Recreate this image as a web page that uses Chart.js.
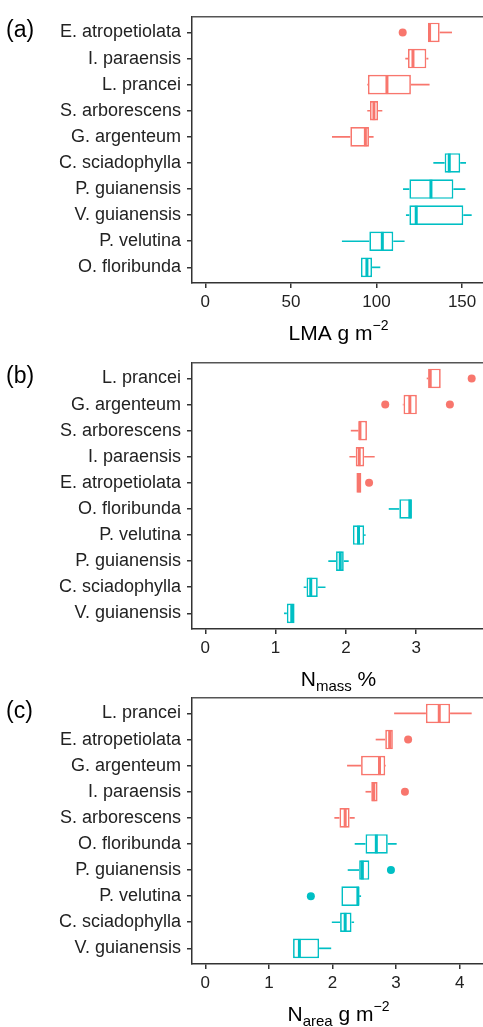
<!DOCTYPE html>
<html>
<head>
<meta charset="utf-8">
<script src="https://cdn.jsdelivr.net/npm/chart.js@4.4.1/dist/chart.umd.min.js"></script>
<style>
  html, body { margin: 0; padding: 0; background: #fff; overflow: hidden; width: 483px; height: 1027px; }
  canvas { position: absolute; left: 0; }
</style>
</head>
<body>
<canvas id="lmaChart" width="490" height="350" style="top:0px"></canvas>
<canvas id="nmassChart" width="490" height="350" style="top:346px"></canvas>
<canvas id="nareaChart" width="490" height="350" style="top:681px"></canvas>
<script>
// group 1 = first habitat group (red), group 2 = second (teal)

// Panel (a): LMA g m-2
const lmaSpecies = ['E. atropetiolata', 'I. paraensis', 'L. prancei', 'S. arborescens', 'G. argenteum',
                    'C. sciadophylla', 'P. guianensis', 'V. guianensis', 'P. velutina', 'O. floribunda'];
const lmaGroup  = [1, 1, 1, 1, 1, 2, 2, 2, 2, 2];
const lmaMin    = [130.1, 116.8, 94.6, 94.6, 74.0, 133.2, 115.5, 117.2, 79.8, 90.9];
const lmaQ1     = [130.1, 118.4, 95.0, 96.2, 84.7, 139.8, 119.2, 119.2, 95.8, 90.9];
const lmaMedian = [131.0, 121.3, 106.1, 98.5, 93.5, 142.5, 131.8, 123.2, 103.4, 94.4];
const lmaQ3     = [136.9, 129.1, 120.1, 100.9, 95.6, 148.9, 144.9, 150.7, 109.8, 97.4];
const lmaMax    = [144.1, 130.3, 131.0, 103.4, 98.3, 152.3, 151.9, 155.6, 116.4, 102.2];
const lmaOutlierSpecies = ['E. atropetiolata'];
const lmaOutlierValues  = [115.3];
const lmaTicks = [0, 50, 100, 150];

// Panel (b): Nmass %
const nmassSpecies = ['L. prancei', 'G. argenteum', 'S. arborescens', 'I. paraensis', 'E. atropetiolata',
                      'O. floribunda', 'P. velutina', 'P. guianensis', 'C. sciadophylla', 'V. guianensis'];
const nmassGroup  = [1, 1, 1, 1, 1, 2, 2, 2, 2, 2];
const nmassMin    = [3.15, 2.81, 2.07, 2.05, 2.15, 2.61, 2.10, 1.75, 1.40, 1.12];
const nmassQ1     = [3.17, 2.82, 2.18, 2.14, 2.15, 2.76, 2.10, 1.86, 1.44, 1.16];
const nmassMedian = [3.20, 2.91, 2.20, 2.19, 2.19, 2.91, 2.18, 1.92, 1.50, 1.23];
const nmassQ3     = [3.35, 3.01, 2.30, 2.26, 2.22, 2.94, 2.26, 1.97, 1.60, 1.27];
const nmassMax    = [3.35, 3.01, 2.30, 2.41, 2.22, 2.94, 2.28, 2.04, 1.71, 1.27];
const nmassOutlierSpecies = ['L. prancei', 'G. argenteum', 'G. argenteum', 'E. atropetiolata'];
const nmassOutlierValues  = [3.79, 2.56, 3.48, 2.33];
const nmassTicks = [0, 1, 2, 3];

// Panel (c): Narea g m-2
const nareaSpecies = ['L. prancei', 'E. atropetiolata', 'G. argenteum', 'I. paraensis', 'S. arborescens',
                      'O. floribunda', 'P. guianensis', 'P. velutina', 'C. sciadophylla', 'V. guianensis'];
const nareaGroup  = [1, 1, 1, 1, 1, 2, 2, 2, 2, 2];
const nareaMin    = [2.97, 2.68, 2.23, 2.52, 2.03, 2.35, 2.24, 2.14, 1.99, 1.38];
const nareaQ1     = [3.47, 2.83, 2.45, 2.61, 2.11, 2.52, 2.42, 2.14, 2.12, 1.38];
const nareaMedian = [3.68, 2.90, 2.74, 2.65, 2.20, 2.69, 2.47, 2.40, 2.20, 1.48];
const nareaQ3     = [3.85, 2.95, 2.83, 2.71, 2.27, 2.87, 2.58, 2.42, 2.30, 1.79];
const nareaMax    = [4.19, 2.95, 2.84, 2.71, 2.35, 3.01, 2.58, 2.45, 2.34, 1.98];
const nareaOutlierSpecies = ['E. atropetiolata', 'I. paraensis', 'P. guianensis', 'P. velutina'];
const nareaOutlierValues  = [3.19, 3.14, 2.92, 1.66];
const nareaTicks = [0, 1, 2, 3, 4];

const FONT = '"Liberation Sans", Arial, sans-serif';
const groupColor = g => (g === 1 ? '#F8766D' : '#00BFC4');

// draws text made of normal / sub / superscript pieces, centred on cx
function drawRich(ctx, parts, cx, baseline) {
    let total = 0;
    parts.forEach(p => {
        ctx.font = p.size + 'px ' + FONT;
        p.w = ctx.measureText(p.text).width;
        total += p.w;
    });
    let x = cx - total / 2;
    ctx.textAlign = 'left';
    ctx.textBaseline = 'alphabetic';
    parts.forEach(p => {
        ctx.font = p.size + 'px ' + FONT;
        ctx.fillText(p.text, x, baseline + (p.dy || 0));
        x += p.w;
    });
}

function makeBoxChart(id, panel, species, groups, mins, q1s, meds, q3s, maxs, outSpecies, outValues, xTicks, titleParts) {
    const colors = groups.map(groupColor);
    const hi = Math.max(...maxs, ...outValues);
    const pad = hi * 0.05;

    const boxParts = {
        id: 'boxParts',
        afterDatasetsDraw(chart) {
            const { ctx, scales: { x, y }, chartArea } = chart;
            ctx.save();
            // whiskers and medians
            meds.forEach((m, i) => {
                const yc = y.getPixelForValue(i);
                ctx.strokeStyle = colors[i];
                ctx.lineWidth = 1.7;
                ctx.beginPath();
                ctx.moveTo(x.getPixelForValue(mins[i]), yc);
                ctx.lineTo(x.getPixelForValue(q1s[i]), yc);
                ctx.moveTo(x.getPixelForValue(q3s[i]), yc);
                ctx.lineTo(x.getPixelForValue(maxs[i]), yc);
                ctx.stroke();
                const xm = x.getPixelForValue(m);
                ctx.lineWidth = 3;
                ctx.beginPath();
                ctx.moveTo(xm, y.getPixelForValue(i - 0.36));
                ctx.lineTo(xm, y.getPixelForValue(i + 0.36));
                ctx.stroke();
            });
            // panel border (top/right)
            ctx.strokeStyle = '#555';
            ctx.lineWidth = 1.5;
            ctx.beginPath();
            ctx.moveTo(chartArea.left, chartArea.top);
            ctx.lineTo(chartArea.right, chartArea.top);
            ctx.lineTo(chartArea.right, chartArea.bottom);
            ctx.stroke();
            // panel letter and axis title
            ctx.fillStyle = '#000';
            ctx.font = '23px ' + FONT;
            ctx.textAlign = 'left';
            ctx.textBaseline = 'middle';
            ctx.fillText(panel, 6, y.getPixelForValue(0) - 2);
            drawRich(ctx, titleParts, (chartArea.left + chartArea.right) / 2, chartArea.bottom + 57);
            ctx.restore();
        }
    };

    return new Chart(document.getElementById(id), {
        type: 'bar',
        data: {
            datasets: [{
                type: 'bar',
                data: species.map((s, i) => ({ y: i, x: [q1s[i], q3s[i]] })),
                backgroundColor: '#fff',
                borderColor: colors,
                borderWidth: 1.7,
                borderSkipped: false,
                barPercentage: 0.75,
                categoryPercentage: 1,
                order: 2
            }, {
                type: 'scatter',
                data: outSpecies.map((s, k) => ({ y: species.indexOf(s), x: outValues[k] })),
                backgroundColor: outSpecies.map(s => colors[species.indexOf(s)]),
                borderWidth: 0,
                pointRadius: 4,
                order: 1
            }]
        },
        options: {
            indexAxis: 'y',
            responsive: false,
            animation: false,
            events: [],
            layout: { padding: { top: 14, right: 5, bottom: 37, left: 0 } },
            plugins: { legend: { display: false }, tooltip: { enabled: false } },
            scales: {
                y: {
                    type: 'linear',
                    reverse: true,
                    offset: false,
                    min: -0.6,
                    max: species.length - 0.4,
                    afterBuildTicks: s => { s.ticks = species.map((_, i) => ({ value: i })); },
                    afterFit: s => { s.width = 192; },
                    ticks: {
                        autoSkip: false,
                        padding: 6,
                        color: '#222',
                        font: { family: FONT, size: 18 },
                        callback: v => species[v]
                    },
                    grid: { offset: false, drawOnChartArea: false, drawTicks: true, tickLength: 5, color: '#333', lineWidth: 1.5 },
                    border: { display: true, color: '#333', width: 1.5 }
                },
                x: {
                    type: 'linear',
                    offset: false,
                    min: -pad,
                    max: hi + pad,
                    afterBuildTicks: s => { s.ticks = xTicks.map(v => ({ value: v })); },
                    afterFit: s => { s.height = 30; },
                    ticks: {
                        autoSkip: false,
                        padding: 4,
                        color: '#222',
                        font: { family: FONT, size: 17 }
                    },
                    grid: { offset: false, drawOnChartArea: false, drawTicks: true, tickLength: 5, color: '#333', lineWidth: 1.5 },
                    border: { display: true, color: '#333', width: 1.5 }
                }
            }
        },
        plugins: [boxParts]
    });
}

makeBoxChart('lmaChart', '(a)', lmaSpecies, lmaGroup, lmaMin, lmaQ1, lmaMedian, lmaQ3, lmaMax,
    lmaOutlierSpecies, lmaOutlierValues, lmaTicks,
    [{ text: 'LMA g m', size: 21 }, { text: '\u22122', size: 14, dy: -10 }]);

makeBoxChart('nmassChart', '(b)', nmassSpecies, nmassGroup, nmassMin, nmassQ1, nmassMedian, nmassQ3, nmassMax,
    nmassOutlierSpecies, nmassOutlierValues, nmassTicks,
    [{ text: 'N', size: 21 }, { text: 'mass', size: 15, dy: 5 }, { text: ' %', size: 21 }]);

makeBoxChart('nareaChart', '(c)', nareaSpecies, nareaGroup, nareaMin, nareaQ1, nareaMedian, nareaQ3, nareaMax,
    nareaOutlierSpecies, nareaOutlierValues, nareaTicks,
    [{ text: 'N', size: 21 }, { text: 'area', size: 15, dy: 5 }, { text: ' g m', size: 21 }, { text: '\u22122', size: 14, dy: -10 }]);
</script>
</body>
</html>
